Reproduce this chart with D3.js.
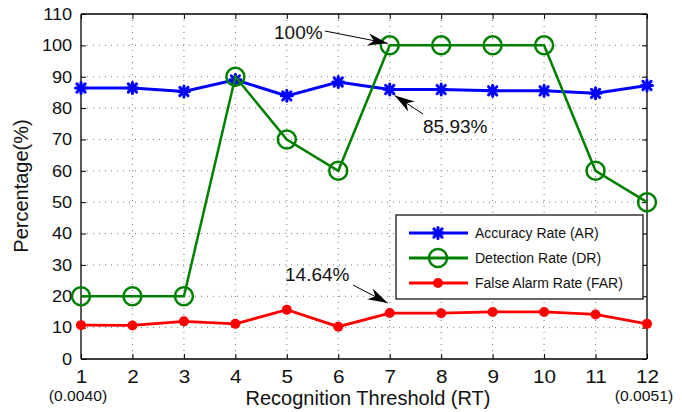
<!DOCTYPE html>
<html><head><meta charset="utf-8">
<script src="https://cdn.jsdelivr.net/npm/d3@7"></script>
<style>body{margin:0;background:#fff}svg{display:block}text{font-family:"Liberation Sans",Arial,sans-serif}</style>
</head><body><svg id="c" width="682" height="412"></svg>
<script>
const thresholds = [1,2,3,4,5,6,7,8,9,10,11,12];
const yTicks = [0,10,20,30,40,50,60,70,80,90,100,110];
const accuracyRate = [86.4,86.4,85.3,89.0,83.9,88.3,85.93,85.9,85.5,85.5,84.7,87.2];
const detectionRate = [20,20,20,90,70,60,100,100,100,100,60,50];
const falseAlarmRate = [10.8,10.7,12.0,11.2,15.7,10.3,14.64,14.6,15.0,15.0,14.2,11.2];
const seriesNames = ["Accuracy Rate (AR)","Detection Rate (DR)","False Alarm Rate (FAR)"];
const subLabels = {1:"(0.0040)",12:"(0.0051)"};
const annotations = [
  {text:"100%", x:7, y:100},
  {text:"85.93%", x:7, y:85.93},
  {text:"14.64%", x:7, y:14.64}
];

const svg = d3.select("#c");
const L=81, R=647, T=14, B=359;
const x = d3.scaleLinear().domain([1,12]).range([L,R]);
const y = d3.scaleLinear().domain([0,110]).range([B,T]);

// grid
const g = svg.append("g");
g.selectAll(".gx").data(thresholds.slice(1,-1)).enter().append("line")
  .attr("x1",d=>x(d)).attr("x2",d=>x(d)).attr("y1",T).attr("y2",B)
  .attr("stroke","#777").attr("stroke-width",1).attr("stroke-dasharray","1,5");
g.selectAll(".gy").data(yTicks.slice(1,-1)).enter().append("line")
  .attr("y1",d=>y(d)).attr("y2",d=>y(d)).attr("x1",L).attr("x2",R)
  .attr("stroke","#777").attr("stroke-width",1).attr("stroke-dasharray","1,5");

// axes
const ax = svg.append("g").attr("transform",`translate(0,${B})`)
  .call(d3.axisBottom(x).tickValues(thresholds).tickSize(-5).tickPadding(11).tickFormat(d3.format("d")));
const ay = svg.append("g").attr("transform",`translate(${L},0)`)
  .call(d3.axisLeft(y).tickValues(yTicks).tickSize(-5).tickPadding(8));
const axT = svg.append("g").attr("transform",`translate(0,${T})`)
  .call(d3.axisTop(x).tickValues(thresholds).tickSize(-5).tickFormat(""));
const ayR = svg.append("g").attr("transform",`translate(${R},0)`)
  .call(d3.axisRight(y).tickValues(yTicks).tickSize(-5).tickFormat(""));
[ax,ay,axT,ayR].forEach(a=>{
  a.select(".domain").attr("stroke","#000").attr("stroke-width",1.3);
  a.selectAll(".tick line").attr("stroke","#000");
  a.selectAll("text").attr("fill","#111").attr("font-family","Liberation Sans, Arial, sans-serif");
});
ax.selectAll("path.domain").attr("d",`M${L},0H${R}`);
ay.selectAll("path.domain").attr("d",`M0,${T}V${B}`);
axT.selectAll("path.domain").attr("d",`M${L},0H${R}`);
ayR.selectAll("path.domain").attr("d",`M0,${T}V${B}`);
ax.selectAll("text").style("font-size","18.5px").attr("transform","scale(1.12,1)");
ay.selectAll("text").style("font-size","16.5px").attr("transform","scale(1.1,1)");

// sub labels
Object.entries(subLabels).forEach(([k,v])=>{
  svg.append("text").attr("transform",`translate(${x(+k)-3},400.5) scale(1.12,1)`).attr("text-anchor","middle")
    .style("font-size","14px").attr("fill","#111").text(v);
});

// axis titles
svg.append("text").attr("x",368).attr("y",405).attr("text-anchor","middle")
  .style("font-size","20px").attr("fill","#111").text("Recognition Threshold (RT)");
svg.append("text").attr("transform","translate(28,186) rotate(-90)").attr("text-anchor","middle")
  .style("font-size","20px").attr("fill","#111").text("Percentage(%)");

const line = d3.line().x((d,i)=>x(thresholds[i])).y(d=>y(d));
const colors = ["#0000ff","#008000","#ff0000"];

function star(sel, cx, cy){
  const s=5.5, d=s*0.75;
  const gg = sel.append("g").attr("transform",`translate(${cx},${cy})`).attr("stroke","#0000ff").attr("stroke-width",3).attr("stroke-linecap","round");
  gg.append("line").attr("x1",-s).attr("x2",s).attr("y1",0).attr("y2",0);
  gg.append("line").attr("y1",-s).attr("y2",s).attr("x1",0).attr("x2",0);
  gg.append("line").attr("x1",-d).attr("x2",d).attr("y1",-d).attr("y2",d);
  gg.append("line").attr("x1",-d).attr("x2",d).attr("y1",d).attr("y2",-d);
}

// FAR
svg.append("path").datum(falseAlarmRate).attr("d",line).attr("fill","none").attr("stroke",colors[2]).attr("stroke-width",2.8);
svg.selectAll(".far").data(falseAlarmRate).enter().append("circle")
  .attr("cx",(d,i)=>x(thresholds[i])).attr("cy",d=>y(d)).attr("r",5).attr("fill",colors[2]);
// AR
svg.append("path").datum(accuracyRate).attr("d",line).attr("fill","none").attr("stroke",colors[0]).attr("stroke-width",3);
accuracyRate.forEach((d,i)=>star(svg,x(thresholds[i]),y(d)));
// DR
svg.append("path").datum(detectionRate).attr("d",line).attr("fill","none").attr("stroke",colors[1]).attr("stroke-width",2.5);
svg.selectAll(".dr").data(detectionRate).enter().append("circle")
  .attr("cx",(d,i)=>x(thresholds[i])).attr("cy",d=>y(d)).attr("r",9).attr("fill","none").attr("stroke",colors[1]).attr("stroke-width",2.5);

// annotations
function arrow(x1,y1,x2,y2){
  svg.append("line").attr("x1",x1).attr("y1",y1).attr("x2",x2).attr("y2",y2).attr("stroke","#000").attr("stroke-width",1);
  const a=Math.atan2(y2-y1,x2-x1), len=20, w=6;
  const bx=x2-len*Math.cos(a), by=y2-len*Math.sin(a);
  const mx=x2-len*0.7*Math.cos(a), my=y2-len*0.7*Math.sin(a);
  const px=-Math.sin(a)*w, py=Math.cos(a)*w;
  svg.append("path").attr("d",`M${x2},${y2}L${bx+px},${by+py}L${mx},${my}L${bx-px},${by-py}Z`).attr("fill","#000");
}
const a0=annotations[0], a1=annotations[1], a2=annotations[2];
svg.append("text").attr("x",274).attr("y",39).style("font-size","19px").attr("fill","#111").text(a0.text);
arrow(325,31,x(a0.x)-2,y(a0.y)-2);
svg.append("text").attr("x",423).attr("y",133).style("font-size","19px").attr("fill","#111").text(a1.text);
arrow(423,114,x(a1.x)+5,y(a1.y)+6);
svg.append("text").attr("x",285).attr("y",281).style("font-size","19px").attr("fill","#111").text(a2.text);
arrow(353,285,x(a2.x)-2,y(a2.y)-10);

// legend
const lg = svg.append("g");
lg.append("rect").attr("x",396).attr("y",215).attr("width",247).attr("height",84).attr("fill","#fff").attr("stroke","#000").attr("stroke-width",1.2);
const ly=[233,258,283];
seriesNames.forEach((n,i)=>{
  lg.append("line").attr("x1",409).attr("x2",468).attr("y1",ly[i]).attr("y2",ly[i]).attr("stroke",colors[i]).attr("stroke-width",3);
  lg.append("text").attr("x",475).attr("y",ly[i]+5).style("font-size","14px").attr("fill","#111").text(n);
});
star(lg,438,ly[0]);
lg.append("circle").attr("cx",438).attr("cy",ly[1]).attr("r",9).attr("fill","none").attr("stroke",colors[1]).attr("stroke-width",2.5);
lg.append("circle").attr("cx",438).attr("cy",ly[2]).attr("r",5).attr("fill",colors[2]);
</script></body></html>
